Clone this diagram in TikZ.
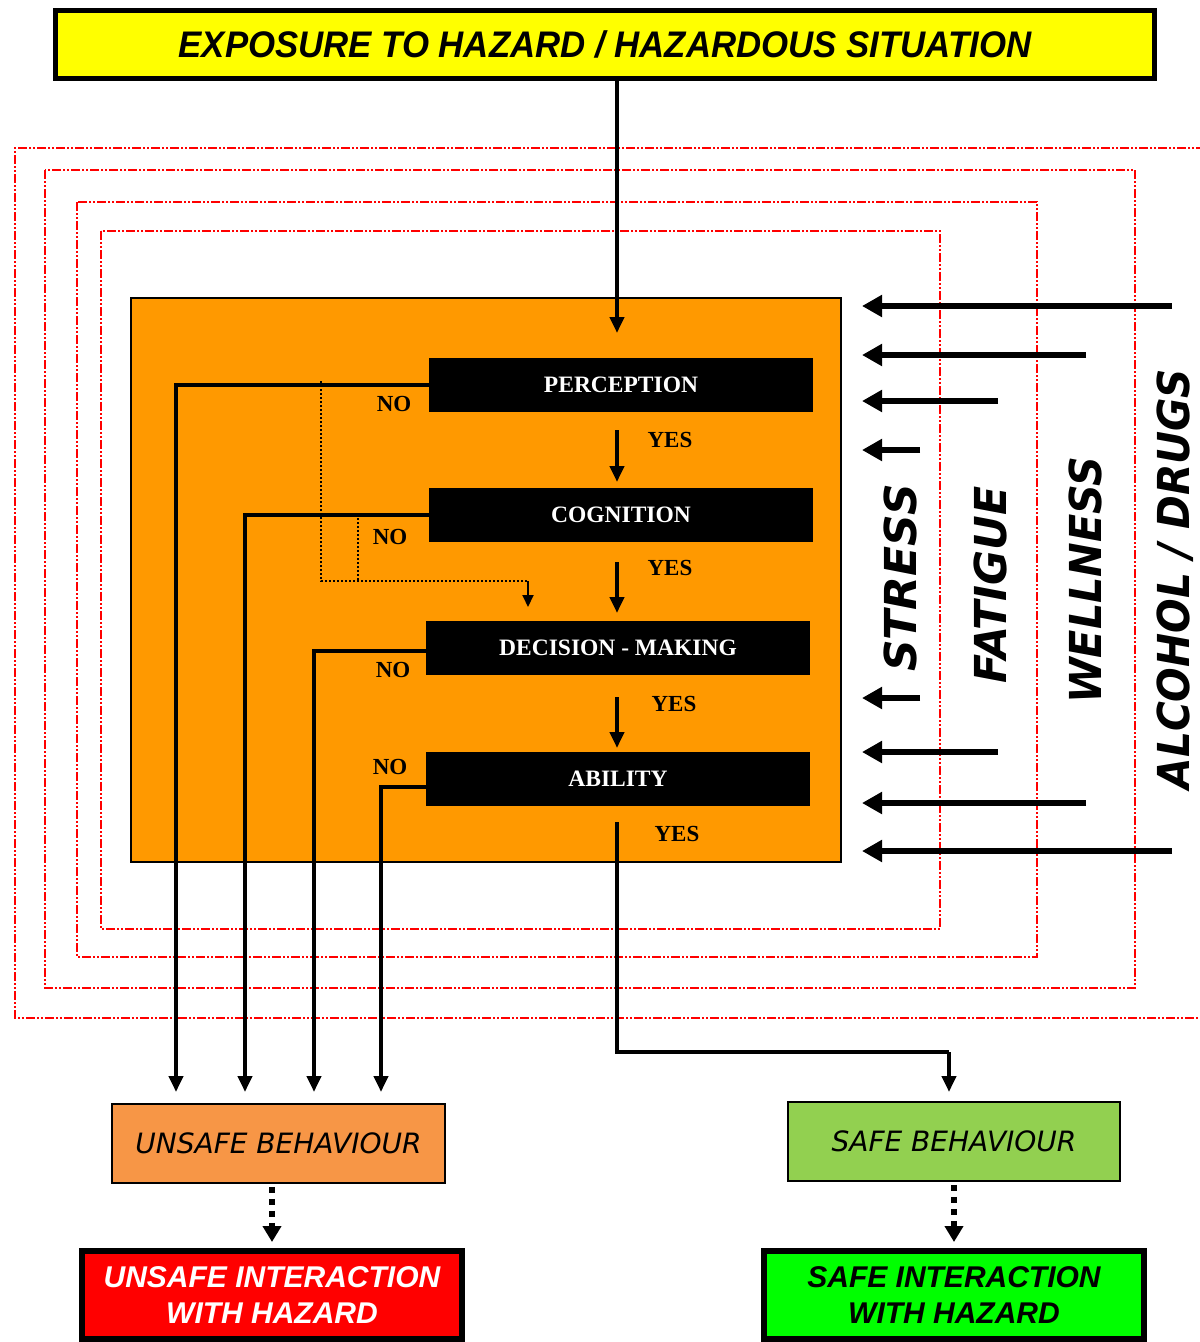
\documentclass[tikz,border=0pt]{standalone}
\usepackage{fontspec}
\setmainfont{Liberation Serif}
\newfontfamily\arialfont{Liberation Sans}
\newfontfamily\comicfont{DejaVu Sans}
\usetikzlibrary{arrows.meta}
\definecolor{boxorange}{HTML}{FF9900}
\definecolor{unsafeorange}{HTML}{F79646}
\definecolor{safegreen}{HTML}{92D050}
\definecolor{brightgreen}{HTML}{00FF00}
\definecolor{brightred}{HTML}{FF0000}
\definecolor{brightyellow}{HTML}{FFFF00}
\begin{document}
\begin{tikzpicture}[x=1pt,y=-1pt,
  stagebox/.style={fill=black,text=white,minimum width=384pt,minimum height=54pt,inner sep=0pt,font=\bfseries\fontsize{23.5}{26}\selectfont},
  flow/.style={line width=4.5pt,-{Triangle[length=16pt,width=14pt]}},
  flowline/.style={line width=4.5pt},
  sidearrow/.style={line width=6pt,-{Triangle[length=20pt,width=21pt]}},
  redframe/.style={draw=brightred,line width=2.2pt,dash pattern=on 9pt off 2pt on 2pt off 2pt on 2pt off 2pt},
  lbl/.style={font=\bfseries\fontsize{23}{25}\selectfont,inner sep=0pt},
  factor/.style={rotate=90,font=\comicfont\bfseries\itshape\fontsize{44}{48}\selectfont,inner sep=0pt},
  behav/.style={draw=black,line width=1.5pt,minimum width=333pt,minimum height=79pt,inner sep=0pt,font=\comicfont\itshape\fontsize{28}{30}\selectfont},
  outcome/.style={draw=black,line width=6pt,minimum width=380pt,minimum height=88pt,inner sep=0pt,align=center,font=\arialfont\bfseries\itshape\fontsize{30}{36}\selectfont},
  dotarrow/.style={line width=6pt,dash pattern=on 6pt off 6pt,-{Triangle[length=16pt,width=18pt]}}
]
\useasboundingbox (0,0) rectangle (1200,1342);

% red dash-dot frames
\draw[redframe] (1205,148) -- (15,148) -- (15,1018) -- (1205,1018);
\draw[redframe] (45,170) rectangle (1135,988);
\draw[redframe] (77,202) rectangle (1037,957);
\draw[redframe] (101,231) rectangle (940,929);

% top box
\node[draw=black,line width=5pt,fill=brightyellow,minimum width=1099pt,minimum height=68pt,inner sep=0pt] (top) at (605,44.5)
  {\arialfont\bfseries\itshape\fontsize{37}{40}\selectfont\scalebox{0.94}[1]{EXPOSURE TO HAZARD / HAZARDOUS SITUATION}};

% orange panel
\node[draw=black,line width=1.5pt,fill=boxorange,minimum width=710pt,minimum height=564pt,inner sep=0pt] (panel) at (486,580) {};

% stages
\node[stagebox] (perc) at (621,385) {PERCEPTION};
\node[stagebox] (cog) at (621,515) {COGNITION};
\node[stagebox] (dec) at (618,647.5) {DECISION - MAKING};
\node[stagebox] (abil) at (618,779) {ABILITY};

% coordinates
\coordinate (entry) at (617,333);
\coordinate (y1a) at (617,430); \coordinate (y1b) at (617,482);
\coordinate (y2a) at (617,562); \coordinate (y2b) at (617,613);
\coordinate (y3a) at (617,697); \coordinate (y3b) at (617,748);
\coordinate (y4a) at (617,822);
\coordinate (n1) at (176,1092);
\coordinate (n2) at (245,1092);
\coordinate (n3) at (314,1092);
\coordinate (n4) at (381,1092);
\coordinate (safein) at (949,1092);
\coordinate (bend) at (949,1052);

% main flow
\draw[flow] (entry |- top.south) -- (entry);
\draw[flow] (y1a) -- (y1b);
\draw[flow] (y2a) -- (y2b);
\draw[flow] (y3a) -- (y3b);
\draw[flowline] (y4a) |- (bend);
\draw[flow] (bend) -- (safein);

% NO branches
\draw[flow] (perc.west) -| (n1);
\draw[flow] (cog.west) -| (n2);
\draw[flow] ([yshift=-3.5pt]dec.west) -| (n3);
\draw[flow] ([yshift=-8pt]abil.west) -| (n4);

% dotted bypass
\coordinate (d1) at (321,381);
\coordinate (d2) at (321,581);
\coordinate (d3) at (528,581);
\coordinate (d4) at (358,518);
\coordinate (d5) at (358,581);
\coordinate (d6) at (528,607);
\draw[line width=2pt,dotted] (d1) -- (d2) -- (d3);
\draw[line width=2pt,dotted] (d4) -- (d5);
\draw[line width=2pt,-{Triangle[length=12pt,width=11pt]}] (d3) -- (d6);

% YES / NO labels
\node[lbl] (yes1) at (670,440) {YES};
\node[lbl] (yes2) at (670,568) {YES};
\node[lbl] (yes3) at (674,704) {YES};
\node[lbl] (yes4) at (677,834) {YES};
\node[lbl] (no1) at (394,404) {NO};
\node[lbl] (no2) at (390,537) {NO};
\node[lbl] (no3) at (393,670) {NO};
\node[lbl] (no4) at (390,767) {NO};

% side arrows
\foreach \y/\x [count=\i] in {306/1172,355/1086,401/998,450/920,698/920,752/998,803/1086,851/1172}{
  \coordinate (sa\i) at (\x,\y);
  \coordinate (sb\i) at (862,\y);
  \draw[sidearrow] (sa\i) -- (sb\i);
}

% factor labels
\node[factor] (stress) at (900,578) {STRESS};
\node[factor] (fatigue) at (990,585) {\scalebox{0.97}[1]{FATIGUE}};
\node[factor] (wellness) at (1085,580) {\scalebox{0.94}[1]{WELLNESS}};
\node[factor] (alcohol) at (1175,579) {\scalebox{0.925}[1]{ALCOHOL / DRUGS}};

% behaviours
\node[behav,fill=unsafeorange] (unsafe) at (278.5,1143.5) {UNSAFE BEHAVIOUR};
\node[behav,fill=safegreen,minimum width=332pt] (safe) at (954,1141.5) {SAFE BEHAVIOUR};

\node[outcome,fill=brightred,text=white] (unsafeout) at (272,1295) {UNSAFE INTERACTION\\WITH HAZARD};
\node[outcome,fill=brightgreen,text=black] (safeout) at (954,1295) {SAFE INTERACTION\\WITH HAZARD};

\draw[dotarrow] ([yshift=-3pt]unsafeout.north |- unsafe.south) -- ([yshift=6pt]unsafeout.north);
\draw[dotarrow] ([yshift=-3pt]safe.south) -- ([yshift=6pt]safeout.north);
\end{tikzpicture}
\end{document}
